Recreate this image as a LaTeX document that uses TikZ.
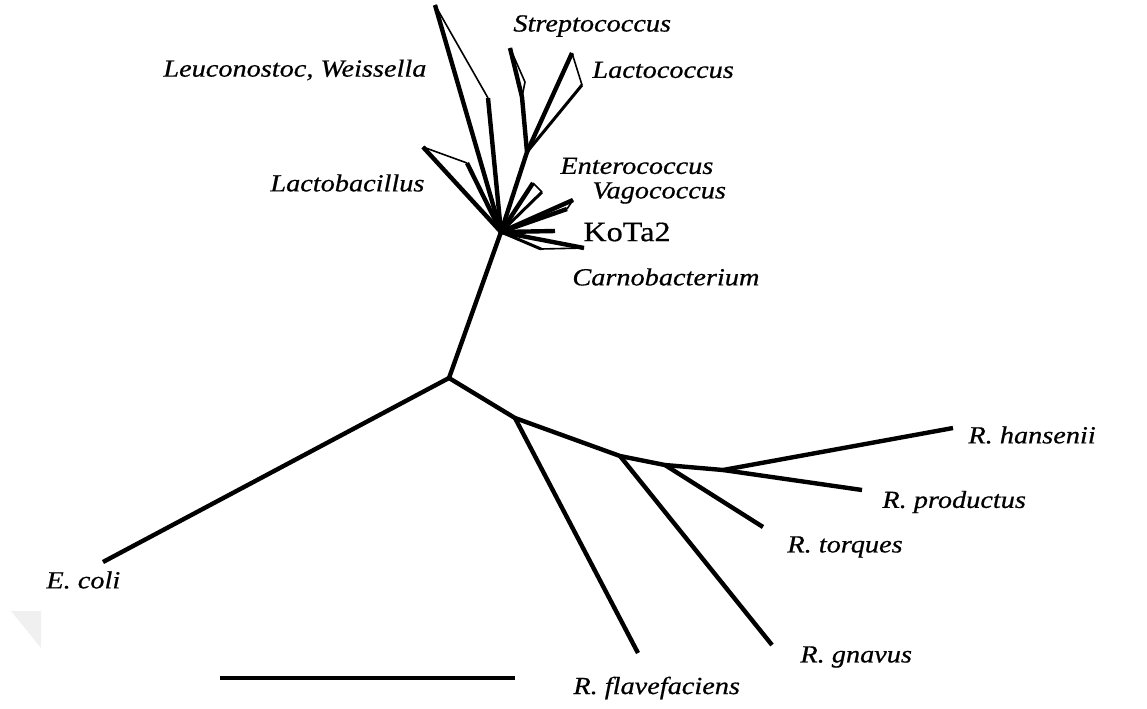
\documentclass[tikz,border=0pt]{standalone}
\usepackage{fontspec}
\setmainfont{Liberation Serif}[FakeStretch=1.15,FakeBold=0.6]
\begin{document}
\begin{tikzpicture}[x=0.5pt,y=-0.5pt,
  br/.style={line width=2.2pt,line join=round},
  md/.style={line width=1.5pt,line join=round},
  tn/.style={line width=0.8pt,line join=round},
  lab/.style={font=\itshape\fontsize{12.3}{14}\selectfont,inner sep=0pt,anchor=west},
  labr/.style={font=\fontsize{14}{16}\selectfont,inner sep=0pt,anchor=west}]
\useasboundingbox (0,0) rectangle (1147,708);
% faint watermark corner
\fill[gray!12] (11,611) -- (41,611) -- (41,648) -- cycle;
% main tree points
\coordinate (root) at (449,378);
\coordinate (hub) at (501,232);
\coordinate (ecoli) at (103,562);
\coordinate (fj) at (515,418);
\coordinate (flav) at (638,653);
\coordinate (gj) at (620,456);
\coordinate (gnav) at (772,645);
\coordinate (tj) at (665,465);
\coordinate (torq) at (763,527);
\coordinate (hj) at (723,470);
\coordinate (hans) at (953,428);
\coordinate (prod) at (862,490);
% cluster points
\coordinate (leuA) at (435,5);
\coordinate (leuB) at (488,98);
\coordinate (stA) at (510,48);
\coordinate (stB) at (525,82);
\coordinate (stC) at (522,97);
\coordinate (sj) at (527,152);
\coordinate (laA) at (572,53);
\coordinate (laB) at (582,85);
\coordinate (lbA) at (423,147);
\coordinate (lbB) at (467,163);
\coordinate (enA) at (533,183);
\coordinate (enB) at (542,192);
\coordinate (vaA) at (573,200);
\coordinate (vaB) at (567,209);
\coordinate (ko) at (555,231);
\coordinate (caA) at (584,248);
\coordinate (caB) at (541,249);
\coordinate (sbL) at (220,678);
\coordinate (sbR) at (515,678);
% main branches
\draw[br] (ecoli) -- (root);
\draw[br] (root) -- (hub);
\draw[br] (root) -- (fj) -- (gj) -- (tj) -- (hj);
\draw[br] (fj) -- (flav);
\draw[br] (gj) -- (gnav);
\draw[br] (tj) -- (torq);
\draw[br] (hj) -- (hans);
\draw[br] (hj) -- (prod);
% Leuconostoc, Weissella
\draw[br] (hub) -- (leuA);
\draw[tn] (leuA) -- (leuB);
\draw[br] (leuB) -- (hub);
% Streptococcus / Lactococcus
\draw[br] (hub) -- (sj) -- (stC) -- (stA);
\draw[tn] (stA) -- (stB) -- (stC);
\draw[br] (sj) -- (laA);
\draw[tn] (laA) -- (laB);
\draw[md] (laB) -- (sj);
% Lactobacillus
\draw[br] (hub) -- (lbA);
\draw[tn] (lbA) -- (lbB);
\draw[br] (lbB) -- (hub);
% Enterococcus
\draw[br] (hub) -- (enA);
\draw[tn] (enA) -- (enB);
\draw[md] (enB) -- (hub);
% Vagococcus
\draw[br] (hub) -- (vaA);
\draw[tn] (vaA) -- (vaB);
\draw[br] (vaB) -- (hub);
% KoTa2
\draw[br] (hub) -- (ko);
% Carnobacterium
\draw[br] (hub) -- (caA);
\draw[tn] (caA) -- (caB);
\draw[md] (caB) -- (hub);
% scale bar
\draw[br] (sbL) -- (sbR);
% labels
\node[lab] (lStrep) at (513,26) {Streptococcus};
\node[lab] (lLacto) at (592,70) {Lactococcus};
\node[lab] (lLeuc) at (163,70) {Leuconostoc, Weissella};
\node[lab] (lLbac) at (270,183) {Lactobacillus};
\node[lab] (lEnt) at (560,166) {Enterococcus};
\node[lab] (lVag) at (592,193) {Vagococcus};
\node[labr] (lKo) at (583,232) {KoTa2};
\node[lab] (lCarn) at (572,277) {Carnobacterium};
\node[lab] (lHans) at (968,435) {R. hansenii};
\node[lab] (lProd) at (882,502) {R. productus};
\node[lab] (lTorq) at (787,547) {R. torques};
\node[lab] (lGnav) at (800,657) {R. gnavus};
\node[lab] (lFlav) at (573,688) {R. flavefaciens};
\node[lab] (lEcoli) at (46,580) {E. coli};
\end{tikzpicture}
\end{document}
